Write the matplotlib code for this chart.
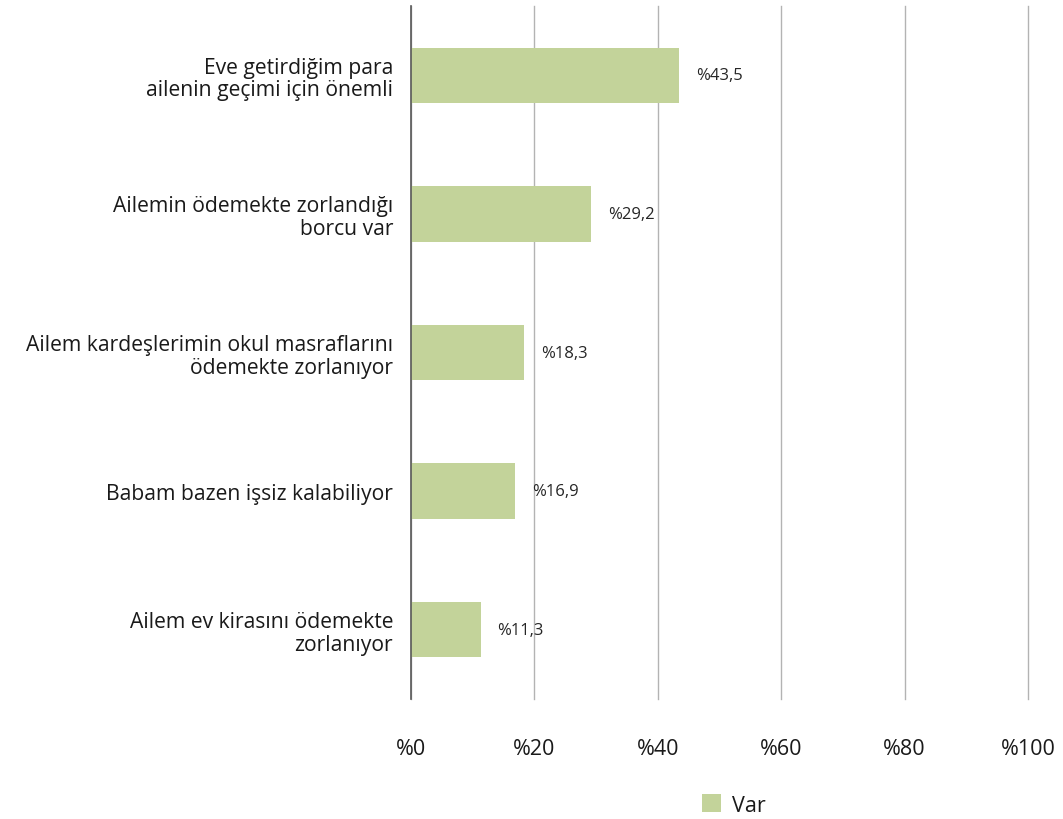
import matplotlib.pyplot as plt
import matplotlib.ticker as mticker

plt.rcParams['font.family'] = ['DejaVu Sans']

categories = [
    "Eve getirdiğim para\nailenin geçimi için önemli",
    "Ailemin ödemekte zorlandığı\nborcu var",
    "Ailem kardeşlerimin okul masraflarını\nödemekte zorlanıyor",
    "Babam bazen işsiz kalabiliyor",
    "Ailem ev kirasını ödemekte\nzorlanıyor",
]
values = [43.5, 29.2, 18.3, 16.9, 11.3]
value_labels = ["%43,5", "%29,2", "%18,3", "%16,9", "%11,3"]
xticks = [0, 20, 40, 60, 80, 100]
series_name = "Var"

BAR_COLOUR = "#c3d39a"
TEXT = "#1a1a1a"
SANS = ["Open Sans", "DejaVu Sans"]

fig = plt.figure(figsize=(10.63, 8.2), dpi=100)
ax = fig.add_axes([0.3867, 0.1463, 0.5804, 0.8451])

ypos = list(range(len(categories)))
ax.barh(ypos, values, height=0.4, color=BAR_COLOUR, label=series_name, zorder=2)

for y, v, lab in zip(ypos, values, value_labels):
    ax.annotate(lab, (v, y), xytext=(12, 0), textcoords="offset points",
                va="center", ha="left", fontsize=12, color="#262626",
                family=SANS)

ax.set_xlim(0, 100)
ax.set_ylim(len(categories) - 0.5, -0.5)
ax.set_xticks(xticks)
ax.xaxis.set_major_formatter(mticker.FuncFormatter(lambda x, p: f"%{int(x)}"))
ax.set_yticks(ypos)
ax.set_yticklabels(categories, fontsize=15.2, color=TEXT, linespacing=1.1,
                   family=SANS)
ax.tick_params(axis="x", labelsize=15.5, colors=TEXT, length=0, pad=28)
ax.tick_params(axis="y", length=0, pad=13)
for t in ax.get_xticklabels():
    t.set_family(SANS)

ax.grid(axis="x", color="#b3b3b3", linewidth=1, zorder=0)
for gl in ax.get_xgridlines():
    gl.set_clip_on(False)
for s in ["top", "right", "bottom"]:
    ax.spines[s].set_visible(False)
ax.spines["left"].set_color("#595959")
ax.spines["left"].set_linewidth(1.2)
ax.spines["left"].set_zorder(3)

leg = fig.legend(loc="center", bbox_to_anchor=(0.69, 0.017), frameon=False,
                 fontsize=15.5, handlelength=0.9, handleheight=0.9, handletextpad=0.5)
for t in leg.get_texts():
    t.set_family(SANS)
    t.set_color(TEXT)

fig.savefig("out.png", dpi=100)
